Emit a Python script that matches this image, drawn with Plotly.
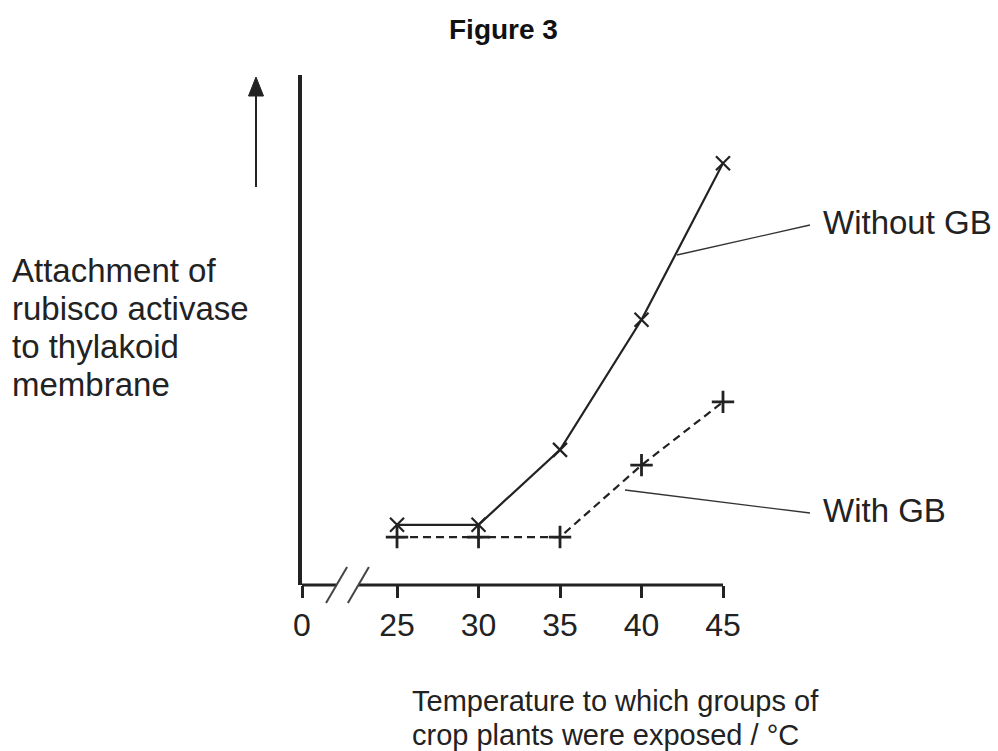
import plotly.graph_objects as go

# Temperatures (°C) and relative attachment of rubisco activase (arbitrary units)
temps = [25, 30, 35, 40, 45]
without_gb = [11.8, 11.8, 26.5, 52.0, 82.7]
with_gb = [9.4, 9.4, 9.4, 23.5, 35.9]
tick_labels = ["0", "25", "30", "35", "40", "45"]
y_label_lines = ["Attachment of", "rubisco activase", "to thylakoid", "membrane"]
x_title_lines = ["Temperature to which groups of", "crop plants were exposed / °C"]

# Figure geometry (pixels)
W, H = 998, 751
L, R, T, B = 302, 723, 75, 585
ZERO_POS = 19.17          # position of "0" on the broken temperature axis
BREAK_MIDS = [21.29, 22.63]  # where the two break slashes cross the axis
X_MAX, Y_MAX = 45, 100

FONT = "Liberation Sans, Arial, sans-serif"
INK = "#222222"


def px(x):
    return (x - L) / (R - L)


def py(y):
    return (B - y) / (B - T)


fig = go.Figure()

fig.add_trace(go.Scatter(
    x=temps, y=without_gb, mode="lines+markers", name="Without GB",
    line=dict(color=INK, width=2.2),
    marker=dict(symbol="x-thin", size=14, line=dict(color=INK, width=2.2)),
    cliponaxis=False, showlegend=False,
))
fig.add_trace(go.Scatter(
    x=temps, y=with_gb, mode="lines+markers", name="With GB",
    line=dict(color=INK, width=2.2, dash="8px,5px"),
    marker=dict(symbol="cross-thin", size=16, line=dict(color=INK, width=2.8)),
    cliponaxis=False, showlegend=False,
))

shapes = []
# broken x-axis line
for x0, x1 in [(ZERO_POS, BREAK_MIDS[0]), (BREAK_MIDS[1], X_MAX)]:
    shapes.append(dict(type="line", xref="x", yref="paper", x0=x0, x1=x1, y0=0, y1=0,
                       line=dict(color=INK, width=3.2)))
# break slashes
for m in BREAK_MIDS:
    shapes.append(dict(type="line", xref="x", yref="paper",
                       x0=m - 0.645, x1=m + 0.645, y0=-0.0353, y1=0.0353,
                       line=dict(color="#444444", width=2)))
# upward arrow beside the y axis
shapes.append(dict(type="line", xref="paper", yref="paper",
                   x0=px(256), x1=px(256), y0=py(187), y1=py(92),
                   line=dict(color=INK, width=2)))
shapes.append(dict(type="path", xref="paper", yref="paper",
                   path=f"M {px(248.5)},{py(96)} L {px(256)},{py(77)} L {px(263.5)},{py(96)} Z",
                   fillcolor=INK, line=dict(color=INK, width=1)))
# leader lines to the series labels
shapes.append(dict(type="line", xref="paper", yref="paper",
                   x0=px(677), y0=py(255), x1=px(810), y1=py(225),
                   line=dict(color="#333333", width=1.3)))
shapes.append(dict(type="line", xref="paper", yref="paper",
                   x0=px(625), y0=py(490), x1=px(810), y1=py(513),
                   line=dict(color="#333333", width=1.3)))

annotations = [
    dict(text="<b>Figure 3</b>", x=px(503), y=py(29), xanchor="center", yanchor="middle",
         font=dict(family=FONT, size=28, color="#111111")),
    dict(text="Without GB", x=px(821), y=py(222), xanchor="left", yanchor="middle",
         font=dict(family=FONT, size=33, color=INK)),
    dict(text="With GB", x=px(821), y=py(510), xanchor="left", yanchor="middle",
         font=dict(family=FONT, size=33, color=INK)),
]
for i, line in enumerate(y_label_lines):
    annotations.append(dict(text=line, x=px(10), y=py(270 + 38.3 * i),
                            xanchor="left", yanchor="middle",
                            font=dict(family=FONT, size=33, color=INK)))
for i, line in enumerate(x_title_lines):
    annotations.append(dict(text=line, x=px(410), y=py(701 + 34 * i),
                            xanchor="left", yanchor="middle",
                            font=dict(family=FONT, size=29, color=INK)))
for a in annotations:
    a.update(xref="paper", yref="paper", showarrow=False)

fig.update_layout(
    width=W, height=H, autosize=False,
    margin=dict(l=L, r=W - R, t=T, b=H - B, pad=0),
    paper_bgcolor="white", plot_bgcolor="white",
    xaxis=dict(range=[ZERO_POS, X_MAX], tickmode="array",
               tickvals=[ZERO_POS] + temps, ticktext=tick_labels,
               ticks="outside", ticklen=12, tickwidth=2.5, tickcolor=INK,
               showgrid=False, zeroline=False, showline=False,
               tickfont=dict(family=FONT, size=32, color=INK)),
    yaxis=dict(range=[0, Y_MAX], showline=True, linewidth=3.5, linecolor=INK,
               showticklabels=False, ticks="", showgrid=False, zeroline=False),
    shapes=shapes, annotations=annotations,
)

fig.write_html("out.html")
